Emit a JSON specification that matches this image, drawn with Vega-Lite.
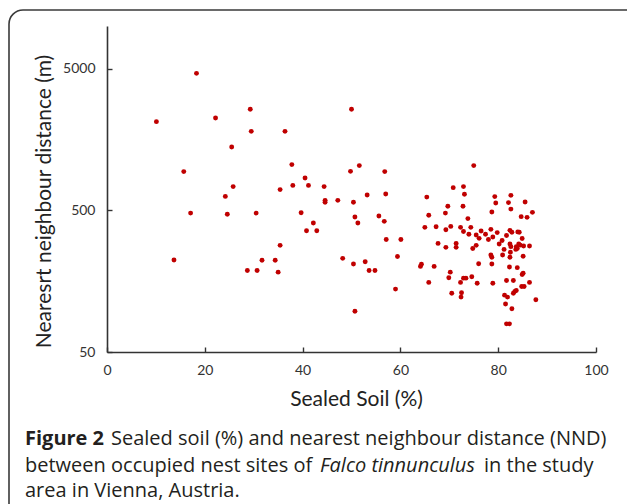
{
  "$schema": "https://vega.github.io/schema/vega-lite/v6.json",
  "width": 489,
  "height": 326,
  "autosize": {"type": "none"},
  "padding": {"left": 107, "top": 26, "right": 31, "bottom": 152},
  "background": "white",
  "config": {"view": {"stroke": null}},
  "datasets": {
    "nests": [
      {"soil":18.3,"nnd":4634},{"soil":10.1,"nnd":2113},{"soil":22.2,"nnd":2240},{"soil":29.3,"nnd":2582},{"soil":29.5,"nnd":1805},
      {"soil":36.4,"nnd":1805},{"soil":25.5,"nnd":1399},{"soil":50.0,"nnd":2582},{"soil":15.7,"nnd":938},{"soil":37.8,"nnd":1051},
      {"soil":51.6,"nnd":1034},{"soil":40.5,"nnd":845},{"soil":25.8,"nnd":735},{"soil":38.0,"nnd":750},{"soil":41.2,"nnd":750},
      {"soil":24.2,"nnd":627},{"soil":35.4,"nnd":700},{"soil":44.4,"nnd":735},{"soil":49.8,"nnd":942},{"soil":44.6,"nnd":588},
      {"soil":44.6,"nnd":570},{"soil":47.2,"nnd":588},{"soil":50.4,"nnd":570},{"soil":17.1,"nnd":478},{"soil":24.6,"nnd":469},
      {"soil":30.5,"nnd":478},{"soil":39.7,"nnd":481},{"soil":50.7,"nnd":449},{"soil":51.3,"nnd":407},{"soil":42.2,"nnd":407},
      {"soil":40.8,"nnd":359},{"soil":42.9,"nnd":359},{"soil":35.4,"nnd":283},{"soil":13.7,"nnd":223},{"soil":31.7,"nnd":222},
      {"soil":34.4,"nnd":222},{"soil":48.2,"nnd":229},{"soil":50.4,"nnd":209},{"soil":28.7,"nnd":188},{"soil":30.7,"nnd":188},
      {"soil":35.0,"nnd":183},{"soil":50.7,"nnd":97},{"soil":56.8,"nnd":938},{"soil":75.0,"nnd":1034},{"soil":53.2,"nnd":641},
      {"soil":57.0,"nnd":652},{"soil":65.4,"nnd":620},{"soil":70.8,"nnd":723},{"soil":72.9,"nnd":735},{"soil":73.1,"nnd":649},
      {"soil":79.3,"nnd":625},{"soil":82.6,"nnd":638},{"soil":69.7,"nnd":534},{"soil":72.8,"nnd":534},{"soil":79.5,"nnd":563},
      {"soil":82.1,"nnd":567},{"soil":85.5,"nnd":572},{"soil":82.6,"nnd":510},{"soil":65.8,"nnd":461},{"soil":69.2,"nnd":478},
      {"soil":78.7,"nnd":486},{"soil":87.0,"nnd":484},{"soil":84.7,"nnd":451},{"soil":85.9,"nnd":446},{"soil":55.6,"nnd":456},
      {"soil":73.8,"nnd":437},{"soil":56.7,"nnd":418},{"soil":65.0,"nnd":379},{"soil":67.3,"nnd":383},{"soil":69.3,"nnd":365},
      {"soil":70.3,"nnd":385},{"soil":72.3,"nnd":379},{"soil":72.9,"nnd":354},{"soil":74.4,"nnd":379},{"soil":74.0,"nnd":339},
      {"soil":75.5,"nnd":335},{"soil":76.5,"nnd":357},{"soil":76.1,"nnd":317},{"soil":77.4,"nnd":339},{"soil":78.5,"nnd":367},
      {"soil":78.9,"nnd":324},{"soil":78.0,"nnd":311},{"soil":79.8,"nnd":348},{"soil":81.7,"nnd":332},{"soil":82.4,"nnd":361},
      {"soil":82.8,"nnd":350},{"soil":84.0,"nnd":352},{"soil":84.3,"nnd":350},{"soil":80.8,"nnd":306},{"soil":80.2,"nnd":289},
      {"soil":82.4,"nnd":289},{"soil":82.6,"nnd":277},{"soil":83.7,"nnd":277},{"soil":83.9,"nnd":269},{"soil":83.6,"nnd":265},
      {"soil":84.2,"nnd":289},{"soil":84.9,"nnd":316},{"soil":84.5,"nnd":284},{"soil":85.2,"nnd":280},{"soil":86.4,"nnd":280},
      {"soil":81.2,"nnd":265},{"soil":82.5,"nnd":253},{"soil":80.9,"nnd":242},{"soil":82.4,"nnd":233},{"soil":85.1,"nnd":237},
      {"soil":78.5,"nnd":242},{"soil":78.7,"nnd":233},{"soil":67.7,"nnd":292},{"soil":71.4,"nnd":292},{"soil":71.4,"nnd":274},
      {"soil":69.3,"nnd":274},{"soil":74.8,"nnd":269},{"soil":75.5,"nnd":283},{"soil":57.1,"nnd":311},{"soil":60.1,"nnd":311},
      {"soil":52.8,"nnd":217},{"soil":53.6,"nnd":188},{"soil":54.8,"nnd":188},{"soil":59.4,"nnd":236},{"soil":59.0,"nnd":139},
      {"soil":64.1,"nnd":201},{"soil":64.3,"nnd":208},{"soil":66.9,"nnd":201},{"soil":76.0,"nnd":210},{"soil":78.7,"nnd":209},
      {"soil":82.3,"nnd":199},{"soil":83.9,"nnd":197},{"soil":70.2,"nnd":183},{"soil":69.9,"nnd":167},{"soil":72.9,"nnd":166},
      {"soil":73.4,"nnd":166},{"soil":74.6,"nnd":170},{"soil":72.3,"nnd":155},{"soil":65.8,"nnd":155},{"soil":75.7,"nnd":153},
      {"soil":78.9,"nnd":153},{"soil":81.7,"nnd":160},{"soil":83.1,"nnd":160},{"soil":84.9,"nnd":176},{"soil":85.1,"nnd":180},
      {"soil":86.4,"nnd":155},{"soil":84.8,"nnd":145},{"soil":85.3,"nnd":145},{"soil":70.5,"nnd":130},{"soil":72.5,"nnd":131},
      {"soil":72.4,"nnd":122},{"soil":81.3,"nnd":126},{"soil":81.9,"nnd":122},{"soil":83.1,"nnd":130},{"soil":83.4,"nnd":134},
      {"soil":83.7,"nnd":136},{"soil":81.5,"nnd":109},{"soil":82.8,"nnd":101},{"soil":87.7,"nnd":117},{"soil":81.7,"nnd":79},
      {"soil":82.3,"nnd":79}
    ]
  },
  "layer": [
    {
      "data": {"values": [{}]},
      "mark": {"type": "rect", "x": -98, "y": -16, "x2": 545, "y2": 500, "cornerRadius": 14, "fill": null, "stroke": "#3a3a3a", "strokeWidth": 1.6, "clip": false},
      "encoding": {}
    },
    {
      "data": {"name": "nests"},
      "mark": {"type": "circle", "size": 24, "color": "#c00000", "opacity": 1},
      "encoding": {
        "x": {
          "field": "soil", "type": "quantitative",
          "scale": {"domain": [0, 100], "nice": false, "zero": false},
          "axis": {
            "values": [0, 20, 40, 60, 80, 100], "grid": false,
            "title": "Sealed Soil (%)",
            "domainColor": "#333333", "domainWidth": 1.6,
            "tickColor": "#333333", "tickWidth": 1.4, "tickSize": -5,
            "labelFont": "Lato", "labelFontSize": 14, "labelColor": "#333333", "labelPadding": 16,
            "labelFlush": false,
            "titleFont": "Lato", "titleFontSize": 21, "titleFontWeight": "normal", "titleColor": "#222222",
            "titleX": 249, "titleY": 47, "titleAlign": "center", "titleBaseline": "middle"
          }
        },
        "y": {
          "field": "nnd", "type": "quantitative",
          "scale": {"type": "log", "domain": [50, 10000], "nice": false},
          "axis": {
            "values": [50, 500, 5000], "grid": false, "format": "d",
            "title": "Nearesrt neighbour distance (m)",
            "domainColor": "#333333", "domainWidth": 1.6,
            "tickColor": "#333333", "tickWidth": 1.4, "tickSize": -5,
            "labelFont": "Lato", "labelFontSize": 14, "labelColor": "#333333", "labelPadding": 17,
            "labelFlush": false,
            "titleFont": "Lato", "titleFontSize": 21, "titleFontWeight": "normal", "titleColor": "#222222",
            "titleX": -63, "titleY": 175, "titleAngle": -90, "titleAlign": "center", "titleBaseline": "middle"
          }
        }
      }
    },
    {
      "data": {"values": [{}]},
      "mark": {"type": "text", "text": "Figure 2", "x": -82, "y": 413, "align": "left", "baseline": "middle", "font": "Open Sans", "fontSize": 20, "fontWeight": "bold", "color": "#231f20"},
      "encoding": {}
    },
    {
      "data": {"values": [{}]},
      "mark": {"type": "text", "text": "Sealed soil (%) and nearest neighbour distance (NND)", "x": 4, "y": 413, "align": "left", "baseline": "middle", "font": "Open Sans", "fontSize": 20, "fontWeight": "normal", "color": "#231f20"},
      "encoding": {}
    },
    {
      "data": {"values": [{}]},
      "mark": {"type": "text", "text": "between occupied nest sites of", "x": -82, "y": 440, "align": "left", "baseline": "middle", "font": "Open Sans", "fontSize": 20, "fontWeight": "normal", "color": "#231f20"},
      "encoding": {}
    },
    {
      "data": {"values": [{}]},
      "mark": {"type": "text", "text": "Falco tinnunculus", "x": 213, "y": 440, "align": "left", "baseline": "middle", "font": "Open Sans", "fontSize": 20, "fontStyle": "italic", "color": "#231f20"},
      "encoding": {}
    },
    {
      "data": {"values": [{}]},
      "mark": {"type": "text", "text": "in the study", "x": 377, "y": 440, "align": "left", "baseline": "middle", "font": "Open Sans", "fontSize": 20, "fontWeight": "normal", "color": "#231f20"},
      "encoding": {}
    },
    {
      "data": {"values": [{}]},
      "mark": {"type": "text", "text": "area in Vienna, Austria.", "x": -82, "y": 465, "align": "left", "baseline": "middle", "font": "Open Sans", "fontSize": 20, "fontWeight": "normal", "color": "#231f20"},
      "encoding": {}
    }
  ]
}
